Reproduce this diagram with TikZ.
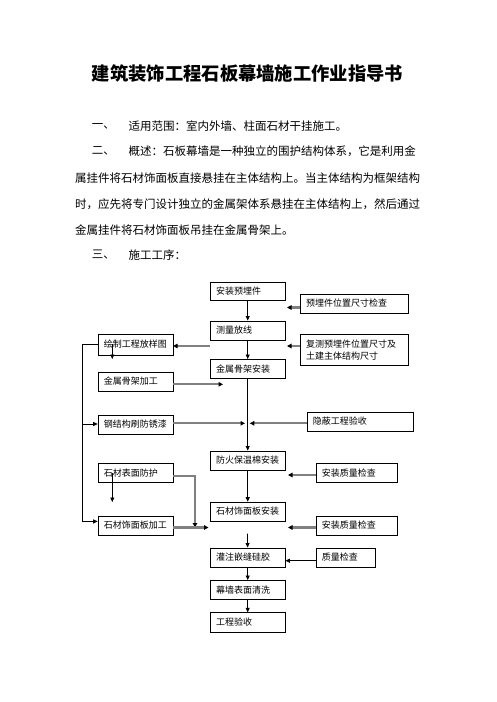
\documentclass[tikz,border=0pt]{standalone}
\usepackage{fontspec}
\usepackage{tikz}
\usetikzlibrary{arrows.meta}
\newfontfamily\cjk{Noto Sans CJK SC}

\begin{document}
\begin{tikzpicture}[
			x=1pt, y=-1pt,
			every node/.style={inner sep=0pt},
			para/.style={anchor=west, font=\cjk\fontsize{11.5}{14}\selectfont},
			proc/.style={draw, rectangle, anchor=north west, align=left, inner xsep=6pt, inner ysep=0pt, minimum height=19pt, text width=#1, font=\cjk\fontsize{9}{12}\selectfont},
			proc/.default=63pt,
			arrow/.style={-{Triangle[length=4.5pt,width=4pt]}, line width=0.8pt},
			grayarrow/.style={draw=black!50, line width=2.2pt, -{Triangle[black,length=4.5pt,width=4.5pt]}}
			]
			\path[use as bounding box, fill=white] (0,0) rectangle (496,702);
			
			% Text
			\node (title) [font=\cjk\bfseries\fontsize{18.3}{22}\selectfont] at (247.5,73.3) {建筑装饰工程石板幕墙施工作业指导书};
			\node (num1) [para] at (91.7,126) {一、};
			\node (item1) [para] at (128.3,126) {适用范围：室内外墙、柱面石材干挂施工。};
			\node (num2) [para] at (91.7,151) {二、};
			\node (item2) [para] at (128.3,151) {概述：石板幕墙是一种独立的围护结构体系，它是利用金};
			\node (line3) [para] at (75,177.7) {属挂件将石材饰面板直接悬挂在主体结构上。当主体结构为框架结构};
			\node (line4) [para] at (75,204) {时，应先将专门设计独立的金属架体系悬挂在主体结构上，然后通过};
			\node (line5) [para] at (75,230) {金属挂件将石材饰面板吊挂在金属骨架上。};
			\node (num3) [para] at (91.7,255) {三、};
			\node (item3) [para] at (128.3,255) {施工工序：};
			
			% Nodes
			\node (yumai) [proc, minimum height=18.5pt] at (210,281.5) {安装预埋件};
			\node (celiang) [proc] at (210,320.5) {测量放线};
			\node (gujia) [proc] at (210,359) {金属骨架安装};
			\node (fanghuo) [proc] at (210,450.5) {防火保温棉安装};
			\node (shicaian) [proc] at (210,501.7) {石材饰面板安装};
			\node (guanzhu) [proc] at (210,547.5) {灌注嵌缝硅胶};
			\node (qingxi) [proc] at (210,580) {幕墙表面清洗};
			\node (yanshou) [proc, minimum height=20pt] at (210,612.3) {工程验收};
			
			\node (huitu) [proc, minimum height=20.5pt] at (97.7,334) {绘制工程放样图};
			\node (jiagong) [proc] at (97.7,371.7) {金属骨架加工};
			\node (xiuqi) [proc] at (97.7,414.5) {钢结构刷防锈漆};
			\node (fanghu) [proc] at (97.7,463.3) {石材表面防护};
			\node (banjiagong) [proc] at (97.7,515.7) {石材饰面板加工};
			
			\node (check1) [proc=96pt, minimum height=18.7pt] at (300,294) {预埋件位置尺寸检查};
			\node (fuce) [proc=96pt, minimum height=31pt] at (300,334) {复测预埋件位置尺寸及\\土建主体结构尺寸};
			\node (yinbi) [proc=94.6pt] at (306.7,411.7) {隐蔽工程验收};
			\node (zhiliang1) [proc=69pt] at (315.7,463.3) {安装质量检查};
			\node (zhiliang2) [proc=69pt] at (315.7,515.7) {安装质量检查};
			\node (zhiliang3) [proc=47.3pt] at (315.7,547.5) {质量检查};
			
			% Free ends
			\coordinate (c1) at (287,307.5);
			\coordinate (c2) at (210,346);
			\coordinate (c3) at (287,346);
			\coordinate (c4) at (223,384.3);
			\coordinate (c5) at (245,423.3);
			\coordinate (c6) at (249.8,423.3);
			\coordinate (c7) at (195,527.5);
			\coordinate (c8) at (208.5,527.5);
			\coordinate (c9) at (288,475);
			\coordinate (c10) at (288,527.5);
			\coordinate (c11) at (247.5,533.5);
			\coordinate (rail) at (82.3,424);
			\coordinate (d1) at (112.3,359);
			\coordinate (d2) at (112.3,502);
			
			% Connections
			\draw [arrow] (yumai) -- (celiang);
			\draw [arrow] (celiang) -- (gujia);
			\draw [arrow] (gujia) -- (fanghuo);
			\draw [arrow] (fanghuo) -- (shicaian);
			\draw [arrow] (c11) -- (guanzhu);
			\draw [arrow] (guanzhu) -- (qingxi);
			\draw [arrow] (qingxi) -- (yanshou);
			\draw [arrow] ([yshift=-3.5pt]zhiliang3.west) -- ([yshift=-3.5pt]guanzhu.east);
			
			\draw [arrow] (huitu.west) -| (rail) -- (rail -| xiuqi.west);
			\draw [arrow] (rail) |- ([yshift=4pt]banjiagong.west);
			\draw [arrow] (huitu.center -| d1) -- (d1);
			\draw [arrow] (fanghu.center -| d2) -- (d2);
			
			\draw [grayarrow] (check1.west |- c1) -- (c1);
			\draw [grayarrow] (c2) -- (c2 -| huitu.east);
			\draw [grayarrow] (fuce.west |- c3) -- (c3);
			\draw [grayarrow] (jiagong.east |- c4) -- (c4);
			\draw [grayarrow] (xiuqi.east |- c5) -- (c5);
			\draw [grayarrow] (yinbi.west |- c6) -- (c6);
			\draw [grayarrow] ([yshift=-3pt]fanghu.east) -| (c7);
			\draw [grayarrow] (banjiagong.east |- c8) -- (c8);
			\draw [grayarrow] (zhiliang1.west |- c9) -- (c9);
			\draw [grayarrow] (zhiliang2.west |- c10) -- (c10);
			
		\end{tikzpicture}
\end{document}
